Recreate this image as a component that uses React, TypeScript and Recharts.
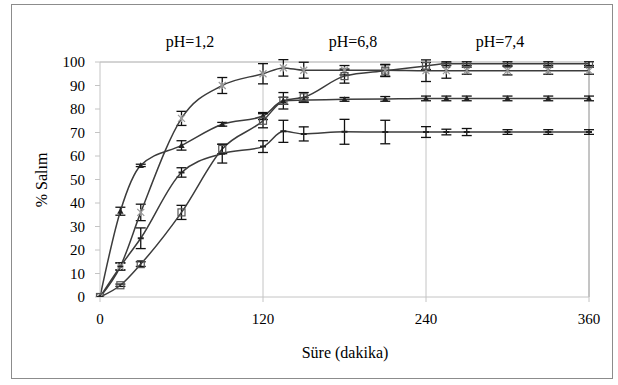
import React from 'react';
import { LineChart, Line, XAxis, YAxis, ErrorBar, ReferenceLine } from 'recharts';

const times = [0, 15, 30, 60, 90, 120, 135, 150, 180, 210, 240, 255, 270, 300, 330, 360];
const seriesA = [0, 13, 36, 76, 90, 95, 97.5, 96.5, 96.5, 96.5, 96.3, 96.3, 96.3, 96.3, 96.3, 96.3];
const errA = [0, 1.5, 3.5, 3, 3.4, 4.3, 3.5, 3.4, 2, 2.5, 4.6, 3.2, 1.5, 1.8, 1.5, 1.5];
const seriesB = [0, 36.5, 56, 64.5, 73.5, 77, 83.5, 83.8, 84.1, 84.3, 84.5, 84.5, 84.5, 84.5, 84.5, 84.5];
const errB = [0, 1.7, 0.5, 2, 0.8, 1.5, 1.5, 1, 0.8, 1, 1, 1, 1, 1, 1, 1];
const seriesC = [0, 5, 14, 36, 63, 75, 83.5, 85, 94, 96.3, 98.3, 99.3, 99.3, 99.3, 99.3, 99.3];
const errC = [0, 0.5, 1, 3, 2, 3, 3.5, 2, 3, 2.5, 1.5, 0.8, 0.8, 0.8, 0.8, 0.8];
const seriesD = [0, 13, 25, 53, 61, 64, 70.5, 69.4, 70.3, 70.2, 70.2, 70.2, 70.2, 70.2, 70.2, 70.2];
const errD = [0, 1.5, 4.4, 2, 4, 2.5, 4.7, 3, 5.3, 5, 2.3, 1.2, 1.5, 1, 1, 1];

const xTicks = [0, 120, 240, 360];
const yTicks = [0, 10, 20, 30, 40, 50, 60, 70, 80, 90, 100];
const phLabels = ['pH=1,2', 'pH=6,8', 'pH=7,4'];
const phCenters = [190, 353, 500];

const data = times.map((t, i) => ({
  t,
  a: seriesA[i], aErr: errA[i],
  b: seriesB[i], bErr: errB[i],
  c: seriesC[i], cErr: errC[i],
  d: seriesD[i], dErr: errD[i],
}));

const FONT = "'Liberation Serif', 'Times New Roman', Times, 'Nimbus Roman', 'Nimbus Roman No9 L', FreeSerif, 'DejaVu Serif', serif";
const LINE = '#3c3c3c';
const GRID = '#c4c4c4';

const makeDot = (shape: string) => (props: any) => {
  const { cx, cy, index } = props;
  if (cx == null || cy == null) return <g key={`n-${shape}-${index}`} />;
  const k = `${shape}-${index}`;
  if (shape === 'star') {
    const s = 3.5;
    return (
      <g key={k} stroke="#9a9a9a" strokeWidth={1.2}>
        <line x1={cx - s} y1={cy - s} x2={cx + s} y2={cy + s} />
        <line x1={cx - s} y1={cy + s} x2={cx + s} y2={cy - s} />
        <line x1={cx} y1={cy - s} x2={cx} y2={cy + s} />
      </g>
    );
  }
  if (shape === 'tri') {
    const s = 3.2;
    return (
      <polygon key={k} points={`${cx},${cy - s} ${cx - s},${cy + s * 0.8} ${cx + s},${cy + s * 0.8}`} fill="#222" />
    );
  }
  if (shape === 'square') {
    const s = 3.5;
    return <rect key={k} x={cx - s} y={cy - s} width={2 * s} height={2 * s} fill="none" stroke="#555" strokeWidth={1.2} />;
  }
  return <line key={k} x1={cx - 3} y1={cy} x2={cx + 3} y2={cy} stroke="#222" strokeWidth={2} />;
};

const seriesDefs = [
  { key: 'a', err: 'aErr', shape: 'star' },
  { key: 'b', err: 'bErr', shape: 'tri' },
  { key: 'c', err: 'cErr', shape: 'square' },
  { key: 'd', err: 'dErr', shape: 'dash' },
];

export default function App() {
  return (
    <div style={{ position: 'absolute', left: 0, top: 0, width: 618, height: 385, background: '#fff', fontFamily: FONT }}>
      <div style={{ position: 'absolute', left: 11, top: 4, width: 600, height: 373, border: '1px solid #8c8c8c' }} />
      <div style={{ position: 'absolute', left: 0, top: 0 }}>
        <LineChart width={618} height={385} data={data} margin={{ top: 62, right: 29, bottom: 58, left: 40 }}>
          <XAxis
            dataKey="t"
            type="number"
            domain={[0, 360]}
            ticks={xTicks}
            tickSize={5}
            tickMargin={11}
            height={30}
            axisLine={{ stroke: GRID }}
            tickLine={{ stroke: GRID }}
            tick={{ fill: '#000', fontSize: 15, fontFamily: FONT }}
          />
          <YAxis
            type="number"
            domain={[0, 100]}
            ticks={yTicks}
            allowDataOverflow
            width={60}
            tickSize={5}
            tickMargin={10}
            axisLine={{ stroke: GRID }}
            tickLine={{ stroke: GRID }}
            tick={{ fill: '#000', fontSize: 15, fontFamily: FONT }}
          />
          <ReferenceLine y={100} stroke="#a8a8a8" />
          <ReferenceLine x={120} stroke={GRID} />
          <ReferenceLine x={240} stroke={GRID} />
          <ReferenceLine x={360} stroke="#8a8a8a" />
          {seriesDefs.map((s) => (
            <Line
              key={s.key}
              dataKey={s.key}
              type="monotone"
              stroke={LINE}
              strokeWidth={1.5}
              dot={makeDot(s.shape)}
              activeDot={false}
              isAnimationActive={false}
            >
              <ErrorBar dataKey={s.err} direction="y" width={5} stroke="#111" strokeWidth={1.3} />
            </Line>
          ))}
        </LineChart>
      </div>
      {phLabels.map((p, i) => (
        <div key={p} style={{ position: 'absolute', left: phCenters[i], top: 42, transform: 'translate(-50%, -50%)', fontSize: 16, whiteSpace: 'nowrap' }}>
          {p}
        </div>
      ))}
      <div style={{ position: 'absolute', left: 345, top: 353, transform: 'translate(-50%, -50%)', fontSize: 16, whiteSpace: 'nowrap' }}>
        Süre (dakika)
      </div>
      <div style={{ position: 'absolute', left: 42, top: 180, transform: 'translate(-50%, -50%) rotate(-90deg)', fontSize: 16, whiteSpace: 'nowrap' }}>
        % Salım
      </div>
    </div>
  );
}
